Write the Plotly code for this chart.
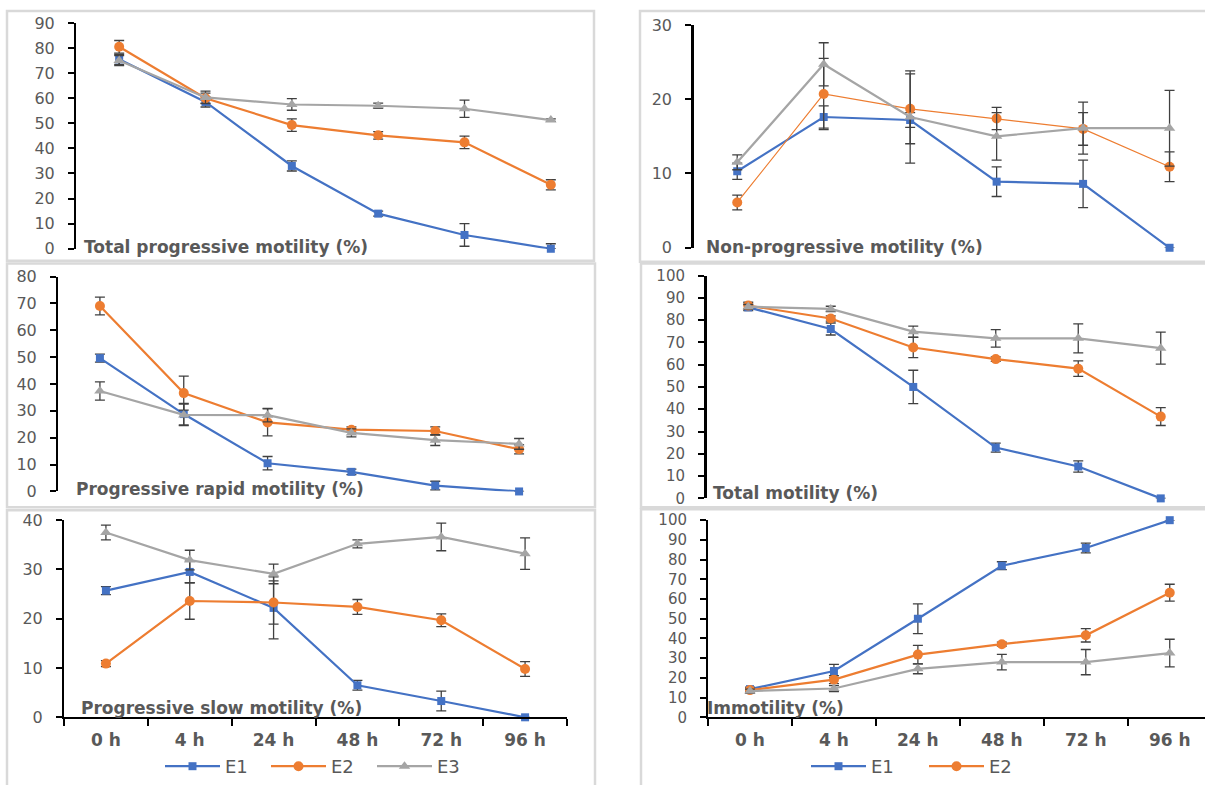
import plotly.graph_objects as go

W, H = 1205, 785

times = ["0 h", "4 h", "24 h", "48 h", "72 h", "96 h"]
series_names = ["E1", "E2", "E3"]

# ---- Total progressive motility (%)
tp_e1 = [75.5, 58.5, 33.0, 14.0, 5.5, 0.0]
tp_e1_err = [2.0, 2.0, 2.0, 1.0, 4.5, 2.0]
tp_e2 = [80.5, 60.0, 49.3, 45.2, 42.4, 25.5]
tp_e2_err = [2.5, 2.0, 2.5, 1.5, 2.5, 2.0]
tp_e3 = [75.0, 60.3, 57.5, 57.0, 55.8, 51.3]
tp_e3_err = [2.0, 2.5, 2.3, 1.0, 3.4, 0.5]

# ---- Non-progressive motility (%)
np_e1 = [10.3, 17.6, 17.2, 8.9, 8.6, 0.0]
np_e1_err = [1.1, 1.5, 1.0, 2.0, 3.2, 0.0]
np_e2 = [6.1, 20.7, 18.7, 17.4, 16.0, 10.9]
np_e2_err = [1.0, 4.8, 4.7, 1.5, 2.2, 2.0]
np_e3 = [11.5, 24.7, 17.6, 15.0, 16.1, 16.1]
np_e3_err = [1.0, 2.9, 6.2, 3.2, 3.5, 5.1]

# ---- Progressive rapid motility (%)
pr_e1 = [49.6, 28.8, 10.5, 7.3, 2.2, 0.0]
pr_e1_err = [1.5, 4.0, 2.5, 1.0, 1.6, 0.0]
pr_e2 = [69.0, 36.6, 25.7, 23.0, 22.5, 15.7]
pr_e2_err = [3.3, 6.3, 5.0, 1.0, 1.5, 1.7]
pr_e3 = [37.4, 28.5, 28.4, 21.8, 19.1, 17.7]
pr_e3_err = [3.4, 4.0, 2.5, 1.5, 2.0, 2.0]

# ---- Total motility (%)
tm_e1 = [85.7, 76.0, 50.0, 22.8, 14.3, 0.0]
tm_e1_err = [1.5, 2.7, 7.5, 2.0, 2.5, 0.0]
tm_e2 = [86.5, 80.7, 67.7, 62.5, 58.2, 36.7]
tm_e2_err = [1.5, 1.2, 4.5, 1.0, 3.5, 4.0]
tm_e3 = [86.0, 85.0, 74.8, 71.8, 71.8, 67.4]
tm_e3_err = [1.0, 1.2, 2.5, 3.9, 6.5, 7.2]

# ---- Progressive slow motility (%)
ps_e1 = [25.7, 29.5, 22.2, 6.5, 3.3, 0.0]
ps_e1_err = [0.8, 2.2, 6.3, 1.0, 2.0, 0.0]
ps_e2 = [10.9, 23.6, 23.3, 22.4, 19.7, 9.8]
ps_e2_err = [0.6, 3.7, 4.4, 1.5, 1.3, 1.5]
ps_e3 = [37.5, 31.9, 29.1, 35.2, 36.6, 33.2]
ps_e3_err = [1.5, 2.0, 2.0, 0.8, 2.8, 3.2]

# ---- Immotility (%)
im_e1 = [14.3, 23.5, 50.0, 76.9, 85.9, 100.0]
im_e1_err = [1.0, 3.3, 7.5, 2.0, 2.5, 0.0]
im_e2 = [13.8, 19.1, 31.8, 37.1, 41.6, 63.2]
im_e2_err = [1.0, 2.0, 4.7, 1.0, 3.4, 4.3]
im_e3 = [13.3, 14.6, 24.6, 28.0, 28.0, 32.6]
im_e3_err = [1.0, 1.5, 2.5, 3.9, 6.4, 7.0]

panel_titles = ["Total progressive motility (%)", "Non-progressive motility (%)",
                "Progressive rapid motility (%)", "Total motility (%)",
                "Progressive slow motility (%)", "Immotility (%)"]
y_max = [90, 30, 80, 100, 40, 100]

COLORS = {"E1": "#4472C4", "E2": "#ED7D31", "E3": "#A5A5A5"}
SYMBOLS = {"E1": "square", "E2": "circle", "E3": "triangle-up"}
MSIZE = {"E1": 8, "E2": 10, "E3": 10}
TXT = "#595959"
FONT = "DejaVu Sans"


def fx(px):
    return px / W


def vy(py):
    # page pixel -> figure pixel (the page is shown with a small offset/scale)
    return (py + (py - 22) * 0.008) / 0.98 - 8


def fy(py):
    return 1 - vy(py) / H


# pixel geometry of each panel: x-domain, y-domain (top,bottom), x-range end
geom = [
    dict(x=(76, 594), y=(22, 250), xr=5.5),
    dict(x=(694, 1205), y=(24, 249), xr=5.41),
    dict(x=(58, 561), y=(278, 495), xr=5.5),
    dict(x=(707, 1202), y=(277, 502), xr=5.5),
    dict(x=(64, 567), y=(524, 723), xr=5.5),
    dict(x=(708, 1205), y=(524, 723), xr=5.42),
]

panels = [
    [(tp_e1, tp_e1_err), (tp_e2, tp_e2_err), (tp_e3, tp_e3_err)],
    [(np_e1, np_e1_err), (np_e2, np_e2_err), (np_e3, np_e3_err)],
    [(pr_e1, pr_e1_err), (pr_e2, pr_e2_err), (pr_e3, pr_e3_err)],
    [(tm_e1, tm_e1_err), (tm_e2, tm_e2_err), (tm_e3, tm_e3_err)],
    [(ps_e1, ps_e1_err), (ps_e2, ps_e2_err), (ps_e3, ps_e3_err)],
    [(im_e1, im_e1_err), (im_e2, im_e2_err), (im_e3, im_e3_err)],
]

yaxis_linew = [2, 2.5, 2, 3, 2, 2]
ytick_size = [16, 16, 16, 15, 16, 15]

fig = go.Figure()
layout = dict(
    width=W, height=H, margin=dict(l=0, r=0, t=0, b=0),
    paper_bgcolor="white", plot_bgcolor="white",
    font=dict(family=FONT, color=TXT, size=15),
    showlegend=True,
)

for i, (g, data) in enumerate(zip(geom, panels)):
    k = "" if i == 0 else str(i + 1)
    bottom = i >= 4
    for j, name in enumerate(series_names):
        vals, errs = data[j]
        minus = [0 if v == 0 else e for v, e in zip(vals, errs)]
        lw = 1.2 if (i == 1 and name == "E2") else 2.2
        if i == 4:
            legend_id, showleg = "legend", True
        elif i == 5 and name != "E3":
            legend_id, showleg = "legend2", True
        else:
            legend_id, showleg = "legend", False
        fig.add_trace(go.Scatter(
            x=times, y=vals, name=name, mode="lines+markers",
            xaxis="x" + k, yaxis="y" + k,
            line=dict(color=COLORS[name], width=lw),
            marker=dict(symbol=SYMBOLS[name], size=MSIZE[name], color=COLORS[name]),
            error_y=dict(type="data", array=errs, arrayminus=minus, symmetric=False,
                         color="#404040", thickness=1.3, width=5),
            cliponaxis=False, showlegend=showleg, legend=legend_id,
        ))
    layout["xaxis" + k] = dict(
        domain=[fx(g["x"][0]), fx(g["x"][1])], anchor="y" + k,
        type="category", categoryorder="array", categoryarray=times,
        range=[-0.5, g["xr"]],
        showgrid=False, zeroline=False,
        showline=bottom, linecolor="black", linewidth=2,
        ticks="outside" if bottom else "", tickson="boundaries", ticklen=7,
        tickcolor="black", tickwidth=2,
        showticklabels=bottom,
        tickfont=dict(family=FONT, size=17, color=TXT, weight="bold"),
        ticklabelstandoff=6,
        fixedrange=True,
    )
    layout["yaxis" + k] = dict(
        domain=[fy(g["y"][1]), fy(g["y"][0])], anchor="x" + k,
        range=[0, y_max[i]], dtick=10, tick0=0,
        showgrid=False, zeroline=False,
        showline=True, linecolor="black", linewidth=yaxis_linew[i],
        ticks="outside", ticklen=6, tickcolor="black", tickwidth=1.5,
        tickfont=dict(family=FONT, size=ytick_size[i], color=TXT),
        ticklabelstandoff=10,
        fixedrange=True,
    )

# panel frames (bottom edges run off the page)
frames = [
    (7, 594, 10, 262), (640, 1212, 10, 263),
    (7, 595, 265, 511), (641, 1212, 265, 511),
    (7, 595, 514, 820), (641, 1212, 513, 820),
]
shapes = []
for x0, x1, y0, y1 in frames:
    shapes.append(dict(type="rect", xref="paper", yref="paper",
                       x0=fx(x0), x1=fx(x1), y0=fy(y1), y1=fy(y0),
                       line=dict(color="#D9D9D9", width=2.5), layer="below"))
layout["shapes"] = shapes

# panel titles
title_pos = [(82, 248), (704, 248), (74, 493), (711, 497), (79, 714), (705, 714)]
anns = []
for t, (px, py) in zip(panel_titles, title_pos):
    anns.append(dict(text="<b>" + t + "</b>", xref="paper", yref="paper",
                     x=fx(px), y=fy(py), xanchor="left", yanchor="middle",
                     showarrow=False, font=dict(family=FONT, size=17, color=TXT)))
layout["annotations"] = anns

layout["legend"] = dict(orientation="h", x=fx(160), y=fy(773), xanchor="left", yanchor="middle",
                        font=dict(family=FONT, size=18, color=TXT), itemwidth=55,
                        entrywidth=36, entrywidthmode="pixels", bgcolor="rgba(0,0,0,0)",
                        itemclick=False, itemdoubleclick=False)
layout["legend2"] = dict(orientation="h", x=fx(806), y=fy(773), xanchor="left", yanchor="middle",
                         font=dict(family=FONT, size=18, color=TXT), itemwidth=55,
                         entrywidth=48, entrywidthmode="pixels", bgcolor="rgba(0,0,0,0)",
                         itemclick=False, itemdoubleclick=False)

fig.update_layout(**layout)
fig.write_html("out.html", config={"displayModeBar": False})
